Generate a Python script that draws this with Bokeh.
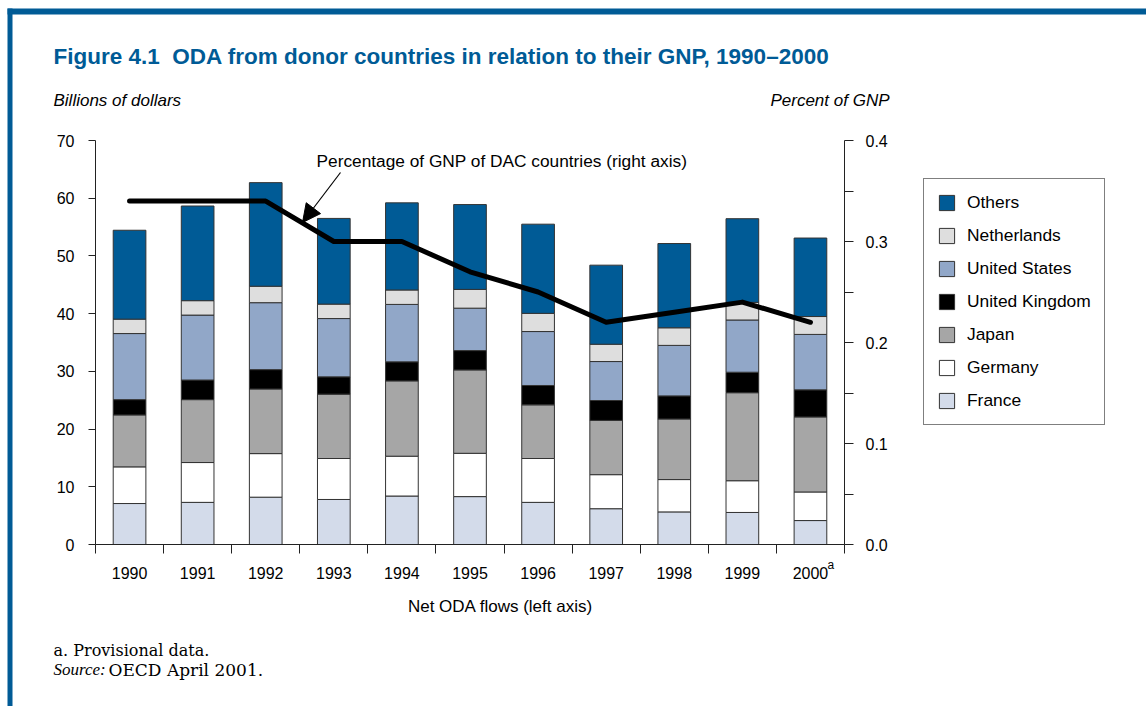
from bokeh.plotting import figure
from bokeh.models import (ColumnDataSource, Range1d, LinearAxis, FixedTicker, PrintfTickFormatter,
                          Legend, LegendItem, Label, Arrow, NormalHead, BoxAnnotation)
from bokeh.embed import file_html
from bokeh.resources import INLINE

# ---------------- data ----------------
years = [1990, 1991, 1992, 1993, 1994, 1995, 1996, 1997, 1998, 1999, 2000]
france = [7.1, 7.3, 8.2, 7.8, 8.4, 8.3, 7.3, 6.2, 5.65, 5.55, 4.15]
germany = [6.35, 6.9, 7.55, 7.1, 6.9, 7.5, 7.6, 5.9, 5.6, 5.5, 4.95]
japan = [9.0, 10.9, 11.2, 11.15, 13.05, 14.45, 9.3, 9.4, 10.5, 15.25, 13.0]
uk = [2.65, 3.4, 3.35, 3.0, 3.3, 3.35, 3.35, 3.45, 4.0, 3.55, 4.7]
us = [11.45, 11.25, 11.6, 10.1, 9.95, 7.35, 9.35, 6.75, 8.75, 9.05, 9.6]
netherlands = [2.5, 2.5, 2.85, 2.5, 2.5, 3.25, 3.15, 3.0, 3.05, 3.05, 3.1]
others = [15.4, 16.4, 17.95, 14.85, 15.1, 14.7, 15.45, 13.7, 14.6, 14.5, 13.6]
pct_gnp = [0.34, 0.34, 0.34, 0.30, 0.30, 0.27, 0.25, 0.22, 0.23, 0.24, 0.22]

series_keys = ["france", "germany", "japan", "uk", "us", "netherlands", "others"]
series_names = ["France", "Germany", "Japan", "United Kingdom", "United States", "Netherlands", "Others"]
series_colors = ["#d3dbea", "#ffffff", "#a6a6a6", "#000000", "#91a7c8", "#dedede", "#005b96"]

left_ticks = [0, 10, 20, 30, 40, 50, 60, 70]
right_ticks = [0.0, 0.1, 0.2, 0.3, 0.4]
right_minor = [0.05, 0.15, 0.25, 0.35]

BLUE = "#005b96"
SANS = "Liberation Sans"
SERIF = "DejaVu Serif"
SERIF_IT = "Liberation Serif"

src = ColumnDataSource(dict(year=years, france=france, germany=germany, japan=japan, uk=uk,
                            us=us, netherlands=netherlands, others=others, pct=pct_gnp))

# ---------------- geometry (page pixels) ----------------
W, H = 1146, 706
AX_L, AX_R = 95, 844        # left / right axis x positions
AX_B, AX_T = 544, 140       # y of value 0 and of top value
SX = (AX_R - AX_L) / 11.0   # px per year
SY = (AX_B - AX_T) / 70.0   # px per billion
SP = (AX_B - AX_T) / 0.4    # px per percent unit
X0 = years[0] - 0.5 - AX_L / SX

p = figure(width=W, height=H, output_backend="svg", toolbar_location=None, title=None,
           x_range=Range1d(X0, X0 + W / SX),
           y_range=Range1d(-(H - AX_B) / SY, AX_B / SY),
           min_border=0, min_border_left=0, min_border_right=0,
           min_border_top=0, min_border_bottom=0)
p.outline_line_color = None
p.xgrid.visible = False
p.ygrid.visible = False
p.background_fill_color = "white"
p.border_fill_color = "white"
p.extra_y_ranges = {"pct": Range1d(-(H - AX_B) / SP, AX_B / SP)}


def X(px):
    return X0 + px / SX


def Y(py):
    return (AX_B - py) / SY


# blue frame of the figure page
p.add_layout(BoxAnnotation(left=X(7), right=X(W + 10), top=Y(8), bottom=Y(14),
                           fill_color=BLUE, fill_alpha=1, line_color=None, level="underlay"))
p.add_layout(BoxAnnotation(left=X(7), right=X(12), top=Y(8), bottom=Y(H + 10),
                           fill_color=BLUE, fill_alpha=1, line_color=None, level="underlay"))

# bars
bars = p.vbar_stack(series_keys, x="year", width=0.48, color=series_colors,
                    line_color="#333333", line_width=1, source=src)

# line on right axis
p.line(x="year", y="pct", source=src, y_range_name="pct", line_width=5,
       line_color="black", line_join="round", line_cap="round")

# x axis
xa = p.xaxis[0]
boundaries = [y - 0.5 for y in years] + [years[-1] + 0.5]
xa.fixed_location = 0
xa.bounds = (years[0] - 0.5, years[-1] + 0.5)
xa.ticker = FixedTicker(ticks=years, minor_ticks=boundaries)
xa.major_tick_out = 0
xa.major_tick_in = 0
xa.minor_tick_out = 9
xa.minor_tick_in = 0
xa.major_label_standoff = 13
xa.major_label_text_font = SANS
xa.major_label_text_font_size = "16px"
xa.major_label_text_color = "black"
xa.axis_line_color = "#222222"
xa.minor_tick_line_color = "#222222"

# left axis
ya = p.yaxis[0]
ya.fixed_location = years[0] - 0.5
ya.bounds = (0, 70)
ya.ticker = FixedTicker(ticks=left_ticks)
ya.major_tick_out = 7
ya.major_tick_in = 0
ya.minor_tick_line_color = None
ya.major_label_standoff = 14
ya.major_label_text_font = SANS
ya.major_label_text_font_size = "16px"
ya.major_label_text_color = "black"
ya.axis_line_color = "#222222"
ya.major_tick_line_color = "#222222"

# right axis
ra = LinearAxis(y_range_name="pct", fixed_location=years[-1] + 0.5, bounds=(0, 0.4),
                ticker=FixedTicker(ticks=right_ticks, minor_ticks=right_minor),
                formatter=PrintfTickFormatter(format="%.1f"))
ra.major_tick_out = 9
ra.major_tick_in = 0
ra.minor_tick_out = 9
ra.minor_tick_in = 0
ra.major_label_standoff = 12
ra.major_label_text_font = SANS
ra.major_label_text_font_size = "16px"
ra.major_label_text_color = "black"
ra.axis_line_color = "#222222"
ra.major_tick_line_color = "#222222"
ra.minor_tick_line_color = "#222222"
p.add_layout(ra, "right")

# legend
items = [LegendItem(label=n, renderers=[r]) for n, r in zip(series_names, bars)][::-1]
legend = Legend(items=items, location=(923, H - 425), orientation="vertical",
                glyph_width=19, glyph_height=19, label_height=19, spacing=12,
                padding=13, label_standoff=11, margin=0,
                label_text_font=SANS, label_text_font_size="17.4px", label_text_color="black",
                border_line_color="black", border_line_width=1, background_fill_alpha=1)
p.add_layout(legend)


def lab(text, px, py, size="17px", font=SANS, style="normal", color="black", align="left"):
    p.add_layout(Label(x=X(px), y=Y(py), text=text, text_font=font, text_font_size=size,
                       text_font_style=style, text_color=color, text_align=align,
                       text_baseline="middle"))


lab("Figure 4.1\u00a0\u00a0ODA from donor countries in relation to their GNP, 1990\u20132000", 53, 56,
    size="22.5px", style="bold", color=BLUE)
lab("Billions of dollars", 53, 100, style="italic")
lab("Percent of GNP", 889, 100, style="italic", align="right")
lab("Percentage of GNP of DAC countries (right axis)", 316, 160, size="17.3px")
lab("a", 827, 564, size="12px")
lab("Net ODA flows (left axis)", 500, 606, align="center")
lab("a. Provisional data.", 53, 650, size="16px", font=SERIF)
lab("Source:", 53, 669, size="17px", font=SERIF_IT, style="italic")
lab("OECD April 2001.", 108, 669, size="17px", font=SERIF)

p.add_layout(Arrow(end=NormalHead(size=18, fill_color="black", line_color="black"),
                   x_start=X(340), y_start=Y(172), x_end=X(302), y_end=Y(222),
                   line_width=1.2, line_color="black"))

open("out.html", "w").write(file_html(p, INLINE))
